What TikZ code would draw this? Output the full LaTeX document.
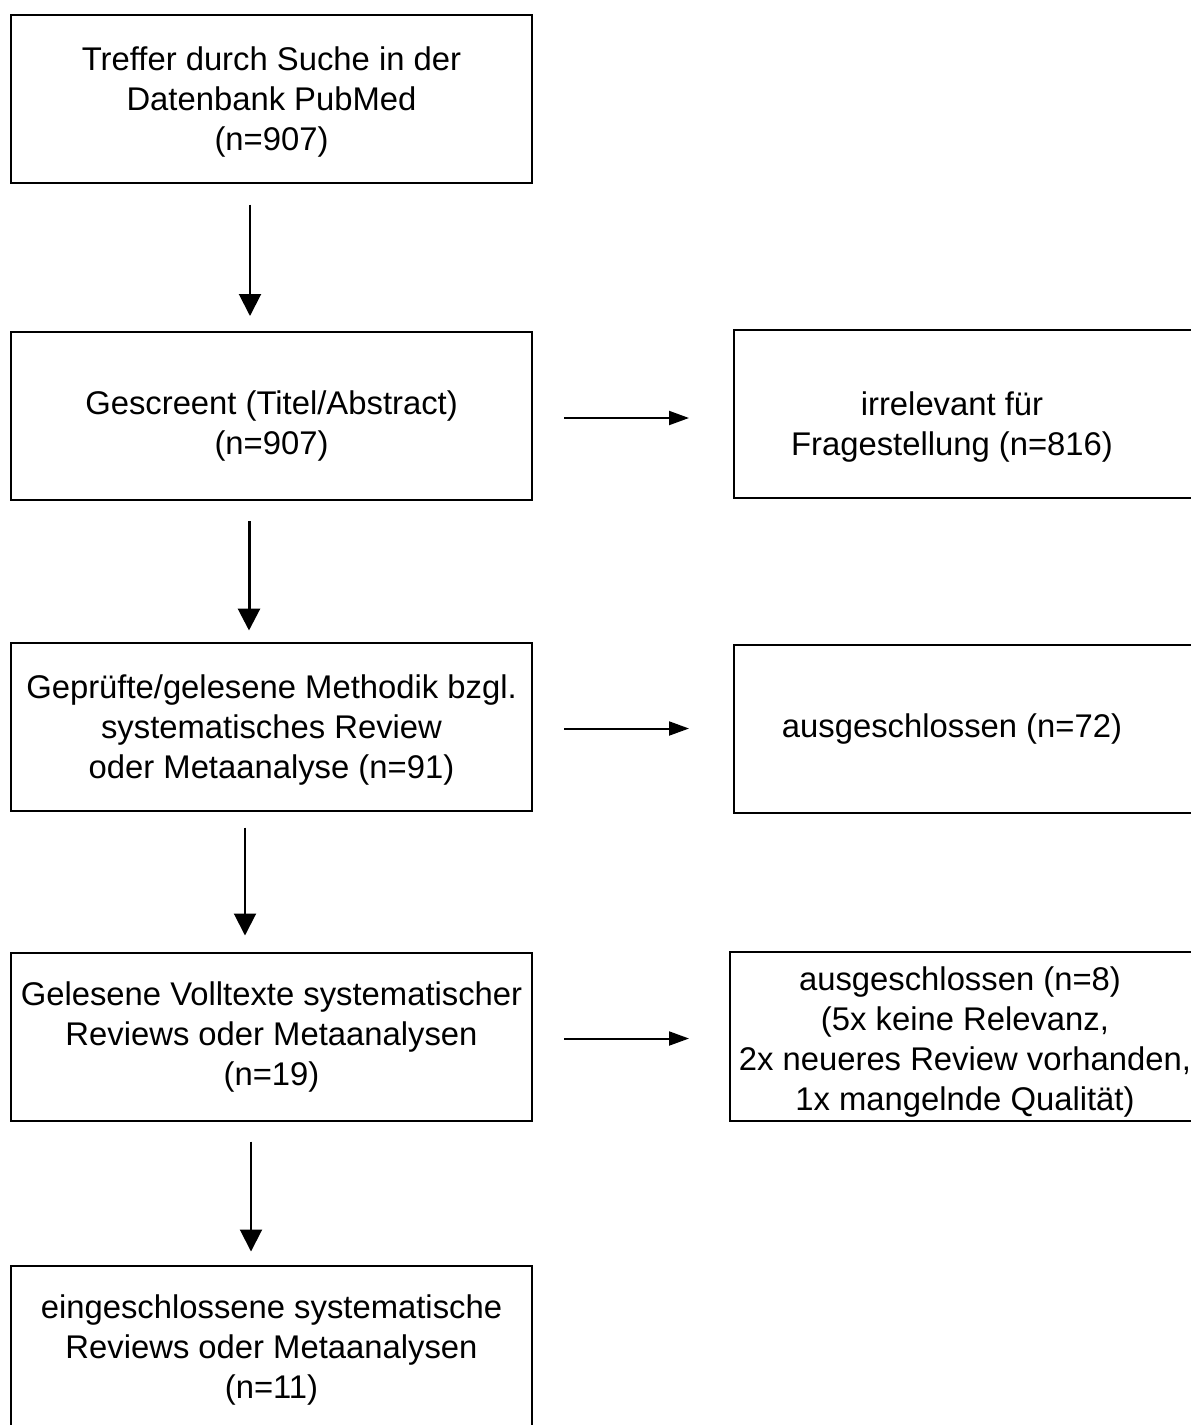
\documentclass[tikz,border=0pt]{standalone}
\usepackage{fontspec}
\setmainfont{Liberation Sans}
\usetikzlibrary{arrows.meta,positioning}

\begin{document}
\begin{tikzpicture}[x=0.5pt, y=-0.5pt,
  box/.style={draw, line width=1pt, minimum width=260.5pt, minimum height=84pt,
    inner sep=2pt, align=center, font=\fontsize{16.4}{20}\selectfont},
  sidebox/.style={box, minimum width=233pt},
  down/.style={-{Triangle[width=11pt,length=11pt]}, line width=1pt},
  across/.style={-{Triangle[width=7pt,length=10pt]}, line width=1pt,
    shorten <=15.5pt, shorten >=22pt}]
  \useasboundingbox (0,0) rectangle (1190,1425);
  % main column
  \node[box] (B1) at (271.5,98.5) {\rule{0pt}{15pt}Treffer durch Suche in der\\Datenbank PubMed\\(n=907)};
  \node[box] (B2) at (271.5,416) {\rule{0pt}{22pt}Gescreent (Titel/Abstract)\\(n=907)};
  \node[box] (B3) at (271.5,726.5) {\rule{0pt}{15pt}Geprüfte/gelesene Methodik bzgl.\\systematisches Review\\oder Metaanalyse (n=91)};
  \node[box] (B4) at (271.5,1036.5) {Gelesene Volltexte systematischer\\Reviews oder Metaanalysen\\(n=19)};
  \node[box] (B5) at (271.5,1349.5) {eingeschlossene systematische\\Reviews oder Metaanalysen\\(n=11)};
  % excluded records (boxes run past the right edge)
  \node[sidebox] (R1) at (967,414) {\rule{0pt}{25pt}irrelevant für\hspace*{15pt}\\Fragestellung (n=816)\hspace*{15pt}};
  \node[sidebox] (R2) at (967,729) {ausgeschlossen (n=72)\hspace*{15pt}};
  \node[sidebox, minimum width=235pt] (R3) at (965,1036.5) {\rule{0pt}{17pt}ausgeschlossen (n=8)\hspace*{5pt}\\(5x keine Relevanz,\hspace*{5pt}\\2x neueres Review vorhanden,\\1x mangelnde Qualität)};
  % arrows
  \draw[down, shorten <=10.5pt, shorten >=7.5pt] ([xshift=-10.75pt]B1.south) -- ([xshift=-10.75pt]B2.north);
  \draw[down, line width=1.5pt, shorten <=10pt, shorten >=5.5pt] ([xshift=-11.25pt]B2.south) -- ([xshift=-11.25pt]B3.north);
  \draw[down, shorten <=8pt, shorten >=8pt] ([xshift=-13.25pt]B3.south) -- ([xshift=-13.25pt]B4.north);
  \draw[down, shorten <=10pt, shorten >=6.5pt] ([xshift=-10.25pt]B4.south) -- ([xshift=-10.25pt]B5.north);
  \draw[across] ([yshift=-1pt]B2.east) -- ([yshift=-1pt]B2.east -| R1.west);
  \draw[across] ([yshift=-1pt]B3.east) -- ([yshift=-1pt]B3.east -| R2.west);
  \draw[across, shorten >=20pt] ([yshift=-1pt]B4.east) -- ([yshift=-1pt]B4.east -| R3.west);
\end{tikzpicture}
\end{document}
